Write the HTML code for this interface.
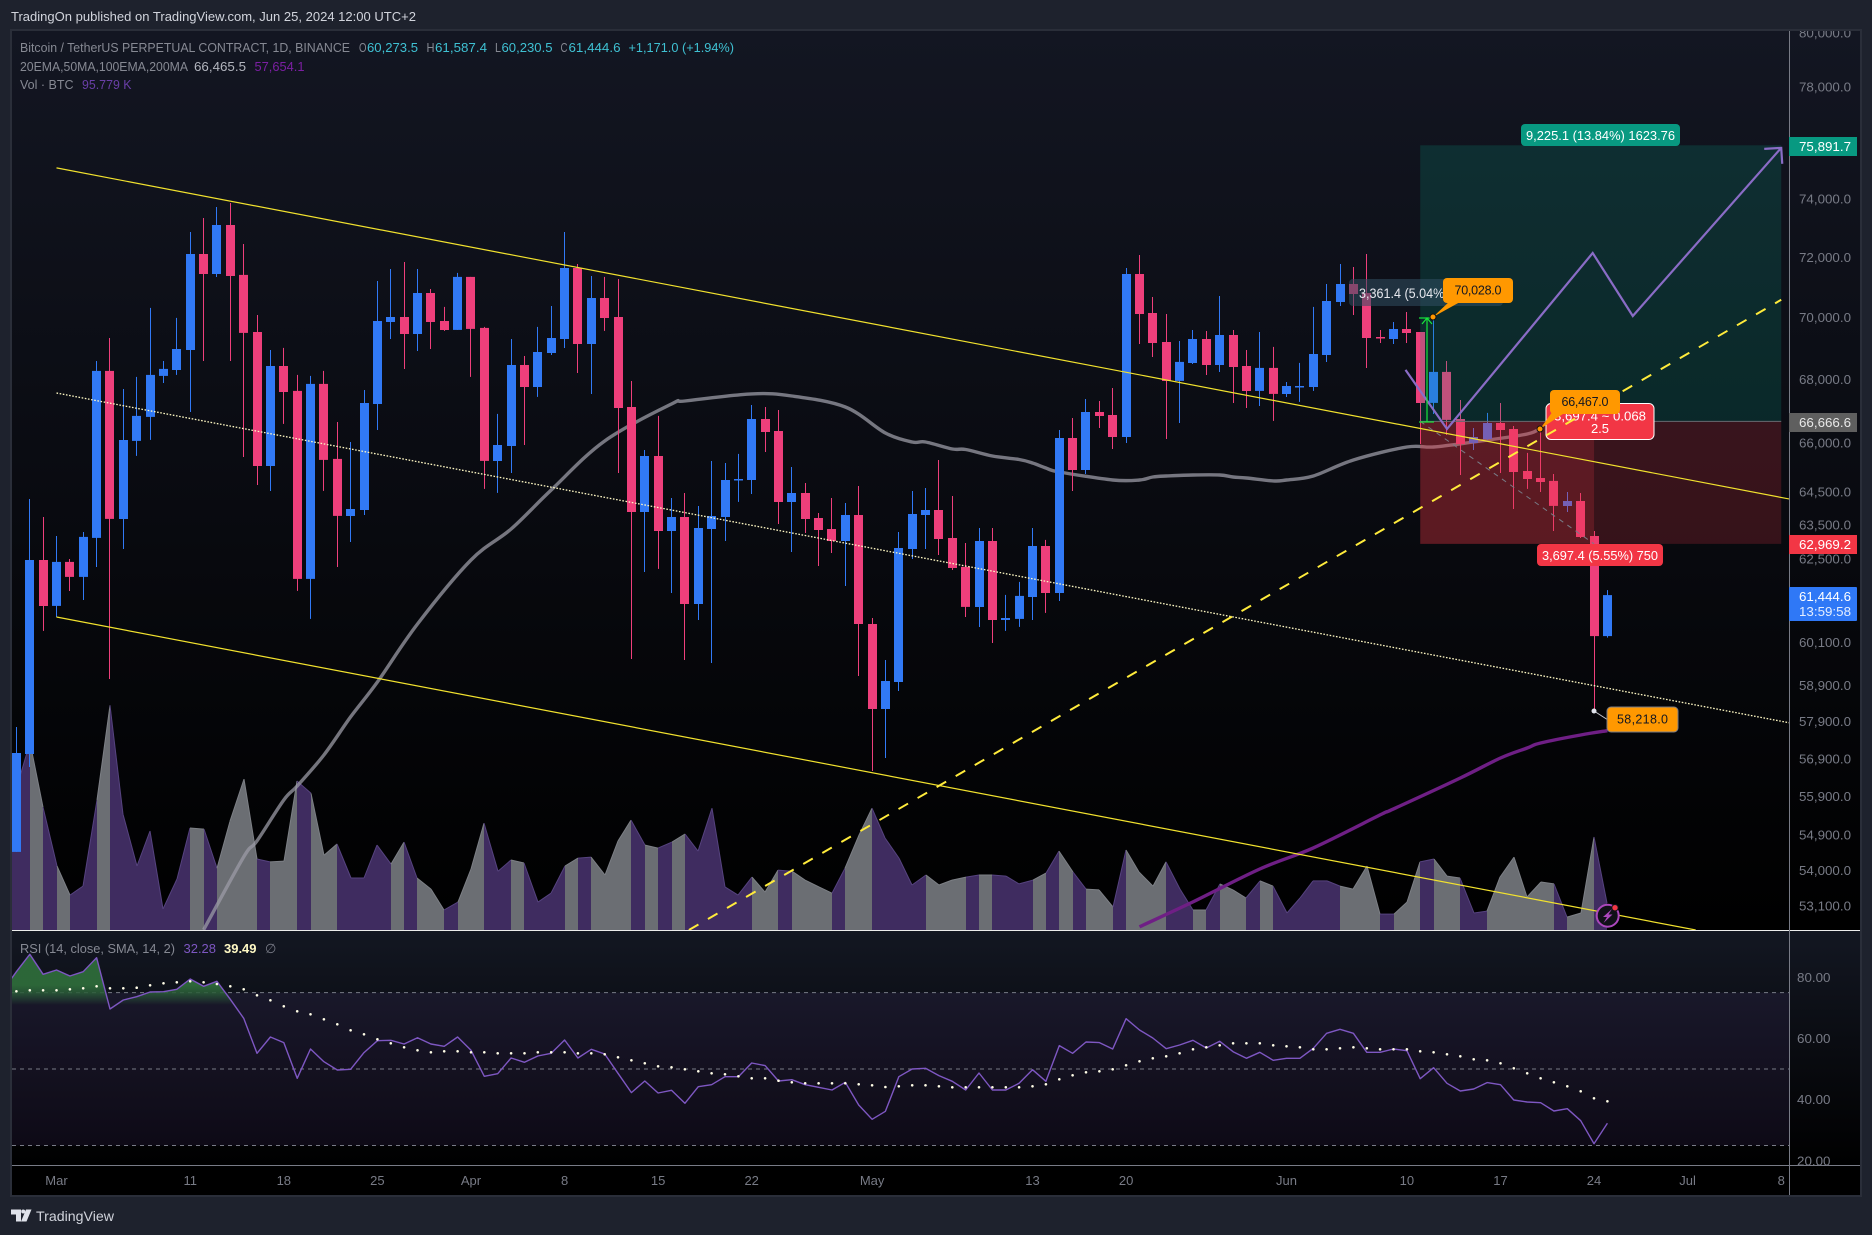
<!DOCTYPE html>
<html lang="en">
<head>
<meta charset="utf-8">
<title>BTCUSDT.P chart - TradingView snapshot</title>
<style>
html,body{margin:0;padding:0;background:#1e222d;width:1872px;height:1235px;overflow:hidden}
svg{display:block;font-family:"Liberation Sans",Arial,sans-serif}
text{white-space:pre}
</style>
</head>
<body>
<svg id="chart" xmlns="http://www.w3.org/2000/svg" width="1872" height="1235" viewBox="0 0 1872 1235">
  <defs>
    <linearGradient id="mainBg" x1="0" y1="0" x2="0" y2="1"><stop offset="0" stop-color="#131622"/><stop offset="1" stop-color="#000"/></linearGradient>
    <linearGradient id="rsiBg" x1="0" y1="0" x2="0" y2="1"><stop offset="0" stop-color="#131722"/><stop offset="1" stop-color="#000"/></linearGradient>
    <linearGradient id="rsiGreen" gradientUnits="userSpaceOnUse" x1="0" y1="985" x2="0" y2="1005"><stop offset="0" stop-color="#2e6b3a" stop-opacity=".95"/><stop offset=".4" stop-color="#2a5c38" stop-opacity=".85"/><stop offset="1" stop-color="#2a5c38" stop-opacity="0"/></linearGradient>
    <clipPath id="mainClip"><rect x="12" y="31" width="1777" height="899"/></clipPath>
    <clipPath id="rsiClip"><rect x="12" y="931" width="1777" height="234"/></clipPath>
    <clipPath id="greenClip"><rect x="12" y="931" width="1777" height="76"/></clipPath>
    <clipPath id="axisClip"><rect x="1790" y="31" width="70" height="899"/></clipPath>
  </defs>

  <text x="11" y="21" font-size="13" fill="#d1d4dc" textLength="405" lengthAdjust="spacingAndGlyphs">TradingOn published on TradingView.com, Jun 25, 2024 12:00 UTC+2</text>

  <rect x="12" y="31" width="1848" height="899" fill="url(#mainBg)"/>
  <rect x="12" y="931" width="1848" height="234" fill="url(#rsiBg)"/>
  <rect x="12" y="1165" width="1848" height="30" fill="#000"/>
  <rect x="12" y="992.6" width="1777" height="153" fill="rgba(126,87,194,.1)"/>

  <g id="layerVolume" clip-path="url(#mainClip)"></g>
  <g id="layerMa" clip-path="url(#mainClip)"></g>
  <g id="layerCandles" clip-path="url(#mainClip)"></g>
  <g id="layerPosition" clip-path="url(#mainClip)"></g>
  <g id="layerTrend" clip-path="url(#mainClip)"></g>
  <g id="layerRsi" clip-path="url(#rsiClip)"></g>

  <!-- legend -->
  <g font-size="13">
    <text x="20" y="52" fill="#868993" textLength="330" lengthAdjust="spacingAndGlyphs">Bitcoin / TetherUS PERPETUAL CONTRACT, 1D, BINANCE</text>
    <text x="359" y="52" fill="#868993" textLength="7.5" lengthAdjust="spacingAndGlyphs">O</text>
    <text x="367" y="52" fill="#3fc1d3" textLength="51" lengthAdjust="spacingAndGlyphs">60,273.5</text>
    <text x="426.5" y="52" fill="#868993" textLength="8" lengthAdjust="spacingAndGlyphs">H</text>
    <text x="435" y="52" fill="#3fc1d3" textLength="52" lengthAdjust="spacingAndGlyphs">61,587.4</text>
    <text x="495" y="52" fill="#868993" textLength="6" lengthAdjust="spacingAndGlyphs">L</text>
    <text x="501.5" y="52" fill="#3fc1d3" textLength="51" lengthAdjust="spacingAndGlyphs">60,230.5</text>
    <text x="560.5" y="52" fill="#868993" textLength="7" lengthAdjust="spacingAndGlyphs">C</text>
    <text x="568.5" y="52" fill="#3fc1d3" textLength="52" lengthAdjust="spacingAndGlyphs">61,444.6</text>
    <text x="628.5" y="52" fill="#3fc1d3" textLength="105.5" lengthAdjust="spacingAndGlyphs">+1,171.0 (+1.94%)</text>
    <text x="20" y="71" fill="#868993" textLength="168" lengthAdjust="spacingAndGlyphs">20EMA,50MA,100EMA,200MA</text>
    <text x="194" y="71" fill="#b2b5be" textLength="52" lengthAdjust="spacingAndGlyphs">66,465.5</text>
    <text x="254.5" y="71" fill="#7b1fa2" textLength="50" lengthAdjust="spacingAndGlyphs">57,654.1</text>
    <text x="20" y="89" fill="#868993" textLength="53.5" lengthAdjust="spacingAndGlyphs">Vol · BTC</text>
    <text x="82" y="89" fill="#6a3fa8" textLength="49.5" lengthAdjust="spacingAndGlyphs">95.779 K</text>
  </g>
  <g font-size="13">
    <text x="20" y="953" fill="#868993" textLength="155" lengthAdjust="spacingAndGlyphs">RSI (14, close, SMA, 14, 2)</text>
    <text x="183.5" y="953" fill="#7e57c2" textLength="32.5" lengthAdjust="spacingAndGlyphs">32.28</text>
    <text x="224" y="953" fill="#fff9c4" textLength="32.5" lengthAdjust="spacingAndGlyphs" font-weight="bold">39.49</text>
    <text x="265" y="953" fill="#787b86">∅</text>
  </g>

  <!-- axis lines -->
  <line x1="12" x2="1860" y1="930.5" y2="930.5" stroke="#ececec" stroke-width="1"/>
  <line x1="12" x2="1860" y1="1165.5" y2="1165.5" stroke="#787b86" stroke-width="1"/>
  <line x1="1789.5" x2="1789.5" y1="31" y2="1195" stroke="#787b86" stroke-width="1"/>
  <rect x="11" y="30" width="1850" height="1166" fill="none" stroke="#2a2e39" stroke-width="2"/>

  <g id="layerPriceTicks"></g>
  <g id="layerRsiTicks"></g>
  <g id="layerTimeTicks"></g>

  <!-- price axis tags -->
  <g>
    <rect x="1789" y="137" width="68" height="19" fill="#089981"/>
    <text x="1799" y="151" font-size="13" fill="#fff" textLength="52" lengthAdjust="spacingAndGlyphs">75,891.7</text>
  </g>
  <g>
    <rect x="1789" y="413" width="68" height="19" fill="#5f5f5f"/>
    <text x="1799" y="427" font-size="13" fill="#e8e8e8" textLength="52" lengthAdjust="spacingAndGlyphs">66,666.6</text>
  </g>
  <g>
    <rect x="1789" y="535" width="68" height="19" fill="#f23645"/>
    <text x="1799" y="549" font-size="13" fill="#fff" textLength="52" lengthAdjust="spacingAndGlyphs">62,969.2</text>
  </g>
  <g>
    <rect x="1789" y="587" width="68" height="34" rx="1" fill="#2f78f6"/>
    <text x="1799" y="601" font-size="13" fill="#fff" textLength="52" lengthAdjust="spacingAndGlyphs">61,444.6</text>
    <text x="1799" y="616" font-size="13" fill="#e3edff" textLength="52" lengthAdjust="spacingAndGlyphs">13:59:58</text>
  </g>

  <!-- annotation labels -->
  <g>
    <rect x="1521" y="124" width="159" height="22" rx="4" fill="#089981"/>
    <text x="1526" y="140" font-size="13" fill="#fff" textLength="149" lengthAdjust="spacingAndGlyphs">9,225.1 (13.84%) 1623.76</text>
  </g>
  <g>
    <rect x="1537" y="544" width="126" height="22" rx="4" fill="#f23645"/>
    <text x="1542" y="560" font-size="13" fill="#fff" textLength="116" lengthAdjust="spacingAndGlyphs">3,697.4 (5.55%) 750</text>
  </g>
  <g>
    <rect x="1349" y="279" width="154" height="27" rx="4" fill="rgba(50,78,98,.55)"/>
    <text x="1359" y="298" font-size="14" fill="#e6e8ee" textLength="107" lengthAdjust="spacingAndGlyphs">3,361.4 (5.04%) 50</text>
  </g>
  <g>
    <rect x="1546" y="403.5" width="108" height="36" rx="5" fill="#f23645" stroke="#fff" stroke-width="1"/>
    <text x="1600" y="420.5" font-size="13" fill="#fff" text-anchor="middle" textLength="92" lengthAdjust="spacingAndGlyphs">3,697.4 ~ 0.068</text>
    <text x="1600" y="433" font-size="13" fill="#fff" text-anchor="middle">2.5</text>
  </g>
  <g id="layerOverDash" clip-path="url(#mainClip)"></g>

  <g fill="none" stroke="#18e63c" stroke-width="1.2">
    <line x1="1427" x2="1427" y1="318" y2="422"/>
    <line x1="1419" x2="1434" y1="422" y2="422"/>
    <line x1="1419" x2="1434" y1="318" y2="318"/>
    <polyline points="1422,324 1427,318 1432,324"/>
  </g>

  <g>
    <polygon points="1433,317 1451,300 1460,302" fill="#ff9800"/>
    <circle cx="1433" cy="317" r="3" fill="#ff9800" stroke="#111" stroke-width="1"/>
    <rect x="1443" y="278" width="70" height="25" rx="4" fill="#ff9800"/>
    <text x="1478" y="294.5" font-size="12.5" fill="#131722" text-anchor="middle" textLength="47" lengthAdjust="spacing">70,028.0</text>
  </g>
  <g>
    <polygon points="1540,429 1553,411 1566,412" fill="#ff9800"/>
    <circle cx="1540" cy="429" r="3" fill="#ff9800" stroke="#111" stroke-width="1"/>
    <rect x="1550" y="390" width="70" height="24" rx="4" fill="#ff9800"/>
    <text x="1585" y="406" font-size="12.5" fill="#131722" text-anchor="middle" textLength="47" lengthAdjust="spacing">66,467.0</text>
  </g>
  <g>
    <line x1="1594" y1="711" x2="1608" y2="720" stroke="#c8c8d0" stroke-width="1"/>
    <circle cx="1594" cy="711" r="2.5" fill="#e0e3eb"/>
    <rect x="1607" y="707" width="71" height="25" rx="4" fill="#ff9800" stroke="#787b86" stroke-width="1"/>
    <text x="1642.5" y="723.5" font-size="12.5" fill="#131722" text-anchor="middle" textLength="51" lengthAdjust="spacing">58,218.0</text>
  </g>

  <g>
    <circle cx="1607.7" cy="915.7" r="11" fill="#101018" stroke="#ab47bc" stroke-width="2"/>
    <polygon points="1612,909 1603,917 1607,917 1603.5,923 1612.5,914.5 1608.5,914.5" fill="#ab47bc"/>
    <circle cx="1615" cy="907.7" r="3.2" fill="#f23645" stroke="#101018" stroke-width="1"/>
  </g>

  <!-- footer logo -->
  <g>
    <path d="M11 1209.5h10v12h-5v-7h-5zM26 1209.5h5.5l-5 12h-5.5z" fill="#e0e3eb"/>
    <circle cx="23.2" cy="1211.5" r="2" fill="#e0e3eb"/>
    <text x="36" y="1221" font-size="14" fill="#d1d4dc" textLength="78" lengthAdjust="spacingAndGlyphs">TradingView</text>
  </g>
</svg>

<script>
// ---- daily bars, first bar is 27 Feb 2024 (index -3 relative to 1 Mar) ----
const firstBarIndex = -3;
const opens = [54466,57029,62466,61132,62408,61970,63115,68263,63680,66055,66804,68103,68295,68939,72117,71443,73105,71410,69524,65285,68423,67625,61912,67848,65500,63770,63950,67213,69851,70015,69458,70808,69884,69589,71343,69655,65438,65900,68455,67751,68842,69296,71644,69133,70642,70015,67118,63890,65592,63322,63739,61189,63381,63739,64857,64857,66741,66366,64190,64462,63710,63381,63026,63800,60617,58245,58989,62790,63800,63950,63115,62262,61103,63026,60731,60760,61391,62878,61506,66148,65162,66961,66867,66179,71443,70147,69198,67943,68520,69296,68455,69426,68423,67625,68359,67529,67751,67751,68777,70510,71108,70808,69361,69296,69622,69524,67244,68231,66741,65993,66117,66616,66428,65132,64918,64827,64070,64220,63174,60273.5];
const highs = [57755,64281,63739,63174,62495,63293,68584,69328,67688,68071,70312,68584,69983,72866,73346,73726,73864,72456,70081,68939,69004,68135,68103,68263,66647,66024,67656,71208,71611,71846,71611,70941,70345,71477,71343,69688,66899,69296,68745,69688,70378,72866,71779,71376,71343,71275,67943,65777,66836,64311,64462,64070,65438,65377,65654,67181,67118,67024,65254,64766,63860,64311,64160,64674,60788,59601,63293,64523,64613,65469,64372,62967,63411,63411,61449,61825,63411,63056,66397,66773,67370,67307,67720,71644,72083,70675,70114,69231,69589,69556,70708,69589,68939,69524,69037,67911,68520,70345,71108,71779,71678,72117,69589,69851,70180,69524,70028,68584,67339,66460,66930,67244,66522,65685,66467,65040,64492,64462,63322,61587.4];
const lows = [54466,56681,60419,60817,61564,61304,62262,59072,62790,65592,66086,67880,68135,66961,68584,71343,68584,65561,64705,64523,66585,61564,60760,64523,62262,62997,63800,66397,69296,68327,68907,68971,69556,69589,68071,64583,64462,65070,65931,67434,68777,69004,68199,67529,69556,65070,59629,62116,62203,61506,59601,60731,59517,63026,64190,64432,65715,63531,62701,63263,62290,62672,61709,59155,56575,56921,58740,62495,62790,62613,62174,60817,60532,60079,60419,60532,60731,60932,61275,64523,65040,66460,65808,65993,69133,68713,66117,66616,68487,68135,68231,67244,67087,67149,66679,67434,67276,67625,68552,70378,70081,68359,69165,69133,69165,65962,66899,66241,65009,65777,66086,65070,63980,64583,64492,63322,63890,63115,58218,60230.5];
const closes = [57055,62466,61132,62408,61970,63145,68263,63680,66086,66836,68135,68327,68971,72117,71443,73105,71376,69491,65285,68423,67593,61912,67848,65469,63770,63980,67244,69884,70015,69458,70808,69851,69589,71343,69622,65438,65931,68455,67751,68874,69328,71644,69133,70642,69983,67087,63890,65592,63322,63739,61189,63411,63770,64857,64887,66741,66335,64190,64462,63680,63352,63026,63800,60617,58245,59016,62819,63830,63950,63086,62232,61103,63026,60731,60788,61420,62878,61506,66148,65162,66961,66836,66179,71443,70114,69165,67943,68552,69296,68455,69426,68391,67625,68359,67529,67783,67783,68809,70543,71108,70775,69328,69328,69622,69491,67244,68231,66710,65962,66179,66616,66397,65101,64887,64796,64070,64220,63145,60273.5,61444.6];

// ---- volume (thousands of BTC), first value is index -4 ----
const volumeStartIndex = -4;
const volumes = [291,512,688,449,232,125,158,475,824,423,232,361,74,184,372,368,224,397,552,258,247,250,545,500,272,313,188,188,309,239,320,188,147,70,99,221,390,213,254,243,99,132,232,261,265,199,324,401,309,298,320,350,287,445,155,125,191,136,217,213,180,155,132,224,346,445,335,261,162,199,162,180,191,199,199,195,166,180,206,287,210,147,144,81,291,210,158,247,147,70,70,166,144,114,177,158,59,114,177,177,158,147,232,55,55,99,247,258,195,188,59,66,191,265,118,173,166,44,59,339,95.779];
const volumeGrayBars = [-2,0,3,10,12,13,14,16,17,19,20,25,27,28,30,31,34,38,40,41,42,44,46,52,53,55,56,57,59,60,65,66,67,69,73,75,77,78,80,81,82,85,87,88,90,96,97,98,100,101,103,104,107,108,109,110,111,113,114];

// ---- moving averages (sampled closes of the line, bar index + price) ----
const ma50Index = [11,14,15,17,18,20,22,24,27,31,34,37,41,46,47,52,55,59,62,64,65,67,68,70,72,73,74,75,79,81,82,83,85,87,88,89,91,92,94,97,101,103,106,110,111];
const ma50Values = [52509,54339,54747,55810,56178,57001,58028,58989,60617,62466,63381,64553,66055,67213,67307,67530,67466,67118,66304,66024,66024,65808,65792,65592,65484,65377,65223,65101,64857,64857,64948,64978,65009,65009,64948,64918,64827,64857,64979,65469,65869,65869,66024,66272,66467];
const ma200Index = [81,85,90,94,99,100,105,108,110,111,114,116];
const ma200Values = [52584,53203,54030,54568,55419,55575,56389,56921,57189,57323,57539,57654.1];

// ---- RSI, first value is index -4; SMA first value is index -3 ----
const rsiStartIndex = -4;
const rsiValues = [75.7,81.84,87.51,80.97,82.39,80.43,81.84,86.42,69.64,72.58,73.67,75.2,75.3,76.07,79.45,77.05,78.68,72.8,66.58,55.14,60.48,58.63,46.96,56.56,52.41,49.69,49.91,55.36,59.28,59.39,58.19,60.26,58.19,57.43,60.48,56.12,47.62,48.49,53.61,52.19,54.27,55.14,59.5,53.61,56.45,54.92,48.6,42.28,46.09,42.17,43.04,38.79,44.24,44.89,47.51,47.51,51.98,51.11,46.09,46.53,44.89,44.02,43.15,45.66,38.24,33.56,36.17,47.51,50.02,50.23,47.84,45.98,43.15,48.71,43.15,43.15,45.33,49.8,45.98,57.65,55.14,58.85,58.63,56.56,66.47,62.77,60.15,56.66,57.86,59.39,56.88,59.06,55.68,53.5,55.47,52.85,53.5,53.5,56.77,61.68,62.99,61.68,55.47,55.47,56.56,56.01,46.85,50.45,45.33,42.82,43.47,45.55,44.89,39.88,39.22,39,36.28,37.04,33.12,25.6,32.28];
const rsiSmaStartIndex = -3;
const rsiSmaValues = [75.41,75.74,75.74,75.74,76.07,76.39,77.05,76.39,76.39,76.61,77.38,78.03,78.36,78.68,78.36,77.81,77.05,76.07,74.11,72.47,70.51,68.87,67.89,66.26,64.62,62.66,61.35,59.72,58.41,57.1,56.12,55.47,55.79,55.79,55.47,55.47,55.14,55.14,55.14,55.47,55.47,55.47,55.14,55.14,54.81,53.83,52.85,51.87,50.89,50.56,49.91,49.25,48.6,48.27,47.62,46.96,46.96,46.2,45.66,45.33,45.33,45.33,45.33,45,44.67,44.13,44.35,44.67,44.67,44.35,44.02,44.02,44.02,44.02,44.02,44.02,44.35,45,46.64,47.94,48.93,49.25,49.91,51.21,52.52,53.5,54.16,55.14,56.45,57.1,57.75,58.41,58.41,58.41,57.75,57.43,57.1,56.45,56.45,56.77,57.1,56.77,56.45,56.45,56.45,55.79,55.47,54.81,54.16,53.18,52.85,51.87,50.23,48.6,46.96,45.66,44.35,42.71,40.42,39.44];
const rsiLevels = [75,50,25];

// ---- axis ticks ----
const priceTicks = [80000,78000,74000,72000,70000,68000,66000,64500,63500,62500,60100,58900,57900,56900,55900,54900,54000,53100];
const rsiTicks = [80,60,40,20];
const timeLabels = ["Mar","11","18","25","Apr","8","15","22","May","13","20","Jun","10","17","24","Jul","8"];
const timeLabelBars = [0,10,17,24,31,38,45,52,61,73,80,92,101,108,115,122,129];

// ---- drawings, anchored by bar index and price ----
const upperChannelBars = [0,129.6];
const upperChannelPrices = [75090,64280];
const midChannelBars = [0,129.6];
const midChannelPrices = [67560,57870];
const lowerChannelBars = [0,122.6];
const lowerChannelPrices = [60815,52504];
const supportBars = [47.3,129];
const supportPrices = [52504,70580];
const zigzagBars = [100.9,104,114.9,117.9,129];
const zigzagPrices = [68295,66428,72150,70048,75800];
const positionBars = [102,115,129];
const positionEntry = 66666.6;
const positionTarget = 75891.7;
const positionStop = 62969.2;

// ---- axis functions ----
function xBar(i){ return 56.5 + 13.37 * i; }
function yPrice(p){ return 33 + (Math.log(80000) - Math.log(p)) * 2130; }
function yVolume(v){ return 929 - v * 0.2715; }
function yRsi(v){ return 977.3 + (80 - v) * 3.058; }

const NS = 'http://www.w3.org/2000/svg';
function mk(tag, attrs, parent){
  const el = document.createElementNS(NS, tag);
  for (const k in attrs) el.setAttribute(k, attrs[k]);
  parent.appendChild(el);
  return el;
}
function pts(bars, vals, yFn){
  return bars.map(function(b, k){ return xBar(b).toFixed(1) + ',' + yFn(vals[k]).toFixed(1); }).join(' ');
}
function smoothPath(bars, vals, yFn){
  const p = bars.map(function(b, k){ return [xBar(b), yFn(vals[k])]; });
  let d = 'M' + p[0][0].toFixed(1) + ' ' + p[0][1].toFixed(1);
  for (let k = 0; k < p.length - 1; k++){
    const p0 = p[Math.max(0, k - 1)], p1 = p[k], p2 = p[k + 1], p3 = p[Math.min(p.length - 1, k + 2)];
    const c1x = p1[0] + (p2[0] - p0[0]) / 6, c1y = p1[1] + (p2[1] - p0[1]) / 6;
    const c2x = p2[0] - (p3[0] - p1[0]) / 6, c2y = p2[1] - (p3[1] - p1[1]) / 6;
    d += ' C' + c1x.toFixed(1) + ' ' + c1y.toFixed(1) + ' ' + c2x.toFixed(1) + ' ' + c2y.toFixed(1) + ' ' + p2[0].toFixed(1) + ' ' + p2[1].toFixed(1);
  }
  return d;
}
const layerVolume = document.getElementById('layerVolume');
const layerMa = document.getElementById('layerMa');
const layerCandles = document.getElementById('layerCandles');
const layerPosition = document.getElementById('layerPosition');
const layerTrend = document.getElementById('layerTrend');
const layerOverDash = document.getElementById('layerOverDash');
const layerRsi = document.getElementById('layerRsi');
const layerPriceTicks = document.getElementById('layerPriceTicks');
const layerRsiTicks = document.getElementById('layerRsiTicks');
const layerTimeTicks = document.getElementById('layerTimeTicks');

// volume segments
volumes.forEach(function(v, k){
  if (k === volumes.length - 1) return;
  const i = volumeStartIndex + k;
  const gray = volumeGrayBars.indexOf(i) >= 0;
  const x0 = Math.round(xBar(i)), x1 = Math.round(xBar(i + 1));
  const y0 = yVolume(v), y1 = yVolume(volumes[k + 1]);
  const seg = mk('polygon', {
    points: x0+',930 '+x0+','+y0.toFixed(1)+' '+x1+','+y1.toFixed(1)+' '+x1+',930',
    fill: gray ? '#6b6e73' : '#3f2c60',
    'shape-rendering': 'crispEdges'
  }, layerVolume);
  
  
  const edge = mk('line', {x1:x0, y1:y0.toFixed(1), x2:x1, y2:y1.toFixed(1), stroke: gray ? '#7d8086' : '#56437f', 'stroke-width':1}, layerVolume);
  
  
});

// moving averages
const ma200Line = mk('path', {d: smoothPath(ma200Index, ma200Values, yPrice), fill:'none', stroke:'#6f1f85', 'stroke-width':3.4, 'stroke-linejoin':'round'}, layerMa);


const ma50Line = mk('path', {d: smoothPath(ma50Index, ma50Values, yPrice), fill:'none', stroke:'rgba(155,155,165,.75)', 'stroke-width':3.4, 'stroke-linejoin':'round'}, layerMa);



// candles
opens.forEach(function(o, k){
  const i = firstBarIndex + k;
  const c = closes[k], h = highs[k], l = lows[k];
  const up = c >= o;
  const col = up ? '#3179f5' : '#ee3f7b';
  const left = Math.round(xBar(i) - 4.5);
  const top = yPrice(Math.max(o, c)), bot = yPrice(Math.min(o, c));
  const g = mk('g', {}, layerCandles);
  
  
  const wick = mk('rect', {x:left + 4, y:yPrice(h).toFixed(1), width:1, height:(yPrice(l) - yPrice(h)).toFixed(1), fill:col}, g);
  
  
  const body = mk('rect', {x:left, y:top.toFixed(1), width:9, height:Math.max(1.5, bot - top).toFixed(1), fill:col}, g);
  
  
});

// position tool
const posLeft = xBar(positionBars[0]), posMid = xBar(positionBars[1]), posRight = xBar(positionBars[2]);
const yEntry = yPrice(positionEntry), yTarget = yPrice(positionTarget), yStop = yPrice(positionStop) + 1;
const profitZone = mk('rect', {x:posLeft, y:yTarget, width:posRight - posLeft, height:yEntry - yTarget, fill:'rgba(8,153,129,.2)'}, layerPosition);


const lossZone = mk('rect', {x:posLeft, y:yEntry, width:posRight - posLeft, height:yStop - yEntry, fill:'rgba(242,54,69,.2)'}, layerPosition);


const activeLossZone = mk('rect', {x:posLeft, y:yEntry, width:posMid - posLeft, height:yStop - yEntry, fill:'rgba(242,54,69,.2)'}, layerPosition);


const entryLine = mk('line', {x1:posLeft, x2:posRight, y1:yEntry, y2:yEntry, stroke:'#666a70', 'stroke-width':1}, layerPosition);


const pathLine = mk('line', {x1:posLeft, y1:yEntry, x2:posMid, y2:yStop, stroke:'#787b86', 'stroke-width':1, 'stroke-dasharray':'5 5'}, layerPosition);



// channel lines
const upperLine = mk('polyline', {points: pts(upperChannelBars, upperChannelPrices, yPrice), fill:'none', stroke:'#f2e22e', 'stroke-width':1.2}, layerTrend);


const midLine = mk('polyline', {points: pts(midChannelBars, midChannelPrices, yPrice), fill:'none', stroke:'#fff9c4', 'stroke-width':1.3, 'stroke-dasharray':'1.6 1.6'}, layerTrend);


const lowerLine = mk('polyline', {points: pts(lowerChannelBars, lowerChannelPrices, yPrice), fill:'none', stroke:'#f2e22e', 'stroke-width':1.2}, layerTrend);



// dashed support above the risk box, zigzag projection
const supportLine = mk('polyline', {points: pts(supportBars, supportPrices, yPrice), fill:'none', stroke:'#ffeb3b', 'stroke-width':2, 'stroke-dasharray':'11 11'}, layerOverDash);


const zigzag = mk('polyline', {points: pts(zigzagBars, zigzagPrices, yPrice), fill:'none', stroke:'#8a6cc6', 'stroke-width':2.2, 'stroke-linejoin':'miter'}, layerOverDash);


const tipX = xBar(zigzagBars[zigzagBars.length - 1]), tipY = yPrice(zigzagPrices[zigzagPrices.length - 1]);
const arrowHead = mk('polyline', {points:(tipX-17)+','+(tipY+1)+' '+tipX+','+tipY+' '+(tipX+1)+','+(tipY+16), fill:'none', stroke:'#8a6cc6', 'stroke-width':2.2}, layerOverDash);



// RSI levels
rsiLevels.forEach(function(v){
  const lvl = mk('line', {x1:12, x2:1789, y1:yRsi(v), y2:yRsi(v), stroke:'#787b86', 'stroke-width':1, 'stroke-dasharray':'4 4'}, layerRsi);
  
  
});
// RSI overbought fill
const rsiBars = rsiValues.map(function(v, k){ return rsiStartIndex + k; });
const baseY = yRsi(70);
const fillPts = xBar(rsiBars[0]).toFixed(1)+','+baseY+' '+pts(rsiBars, rsiValues, yRsi)+' '+xBar(rsiBars[rsiBars.length-1]).toFixed(1)+','+baseY;
const rsiFillGroup = mk('g', {'clip-path':'url(#greenClip)'}, layerRsi);


const rsiFill = mk('polygon', {points:fillPts, fill:'url(#rsiGreen)'}, rsiFillGroup);


const rsiLine = mk('polyline', {points: pts(rsiBars, rsiValues, yRsi), fill:'none', stroke:'#7e57c2', 'stroke-width':1.4, 'stroke-linejoin':'round'}, layerRsi);


rsiSmaValues.forEach(function(v, k){
  const dot = mk('circle', {cx:xBar(rsiSmaStartIndex + k).toFixed(1), cy:yRsi(v).toFixed(1), r:1.3, fill:'#fffde7'}, layerRsi);
  
  
});

// tick labels
function fmtPrice(p){
  return p.toLocaleString('en-US', {minimumFractionDigits:1, maximumFractionDigits:1});
}
const axisClipGroup = mk('g', {'clip-path':'url(#axisClip)'}, layerPriceTicks);


priceTicks.forEach(function(p){
  const t = mk('text', {x:1799, y:(yPrice(p) + 4.6).toFixed(1), 'font-size':13, fill:'#787b86', textLength:52, lengthAdjust:'spacingAndGlyphs'}, axisClipGroup);
  t.textContent = fmtPrice(p);
  
  
});
rsiTicks.forEach(function(v){
  const t = mk('text', {x:1797, y:(yRsi(v) + 4.6).toFixed(1), 'font-size':13, fill:'#787b86', textLength:33.5, lengthAdjust:'spacingAndGlyphs'}, layerRsiTicks);
  t.textContent = v.toFixed(2);
  
  
});
timeLabels.forEach(function(lbl, k){
  const t = mk('text', {x:xBar(timeLabelBars[k]).toFixed(1), y:1185, 'font-size':13, fill:'#787b86', 'text-anchor':'middle'}, layerTimeTicks);
  t.textContent = lbl;
  
  
});
</script>
</body>
</html>
